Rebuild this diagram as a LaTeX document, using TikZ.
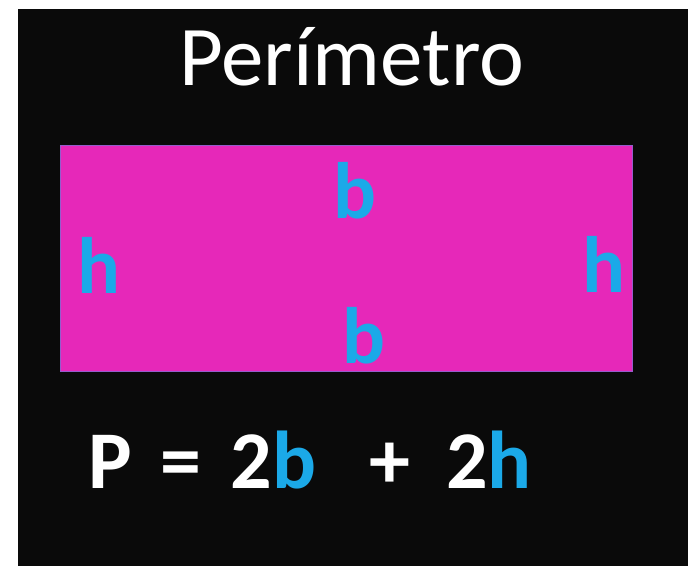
\documentclass[tikz,border=0pt]{standalone}
\usepackage{fontspec}
\setmainfont{Carlito}
\usepackage{xcolor}
\usepackage{tikz}
\definecolor{pblack}{HTML}{0A0A0A}
\definecolor{pmagenta}{HTML}{E628B9}
\definecolor{pblue}{HTML}{1BA9E8}

\begin{document}
\begin{tikzpicture}[x=1pt, y=-1pt,
  letra/.style={font=\fontsize{80}{80}\selectfont\bfseries, text=pblue, inner sep=0pt, anchor=base west}]
\useasboundingbox (0,0) rectangle (688,566);
\fill[white] (0,0) rectangle (688,566);
\fill[pblack] (18,9) rectangle (688,566);
\node[font=\fontsize{85}{85}\selectfont, text=white, inner sep=0pt, anchor=base west]
  (titulo) at (179,85) {Perímetro};
\fill[pmagenta, draw=pblue!40!pmagenta, line width=1pt] (60,145) rectangle (632,371);
\node[letra] (bsup) at (333,218) {b};
\node[letra] (binf) at (342,363) {b};
\node[letra] (hizq) at (77,293) {h};
\node[letra] (hder) at (582,292) {h};
\node[font=\fontsize{82}{82}\selectfont\bfseries, text=white, inner sep=0pt, anchor=base west]
  (formula) at (88,488) {P\hspace{29pt}=\hspace{29pt}2\textcolor{pblue}{b}\hspace{53pt}+\hspace{36pt}2\textcolor{pblue}{h}};
\end{tikzpicture}
\end{document}
